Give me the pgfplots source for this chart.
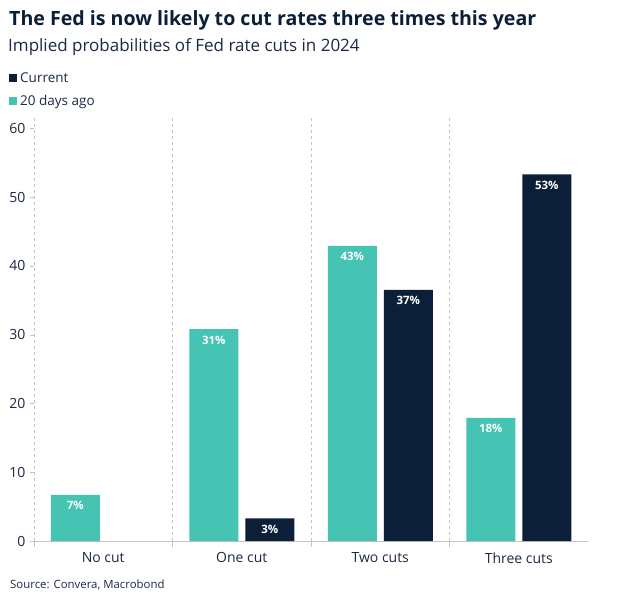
\documentclass[border=0pt]{standalone}
\usepackage{pgfplots}
\pgfplotsset{compat=1.18}
\usepackage{fontspec}
\setmainfont{Open Sans}
\definecolor{navyc}{HTML}{0B1F38}
\definecolor{tealc}{HTML}{45C4B4}
\definecolor{txt}{HTML}{1B2A44}
\definecolor{gridc}{HTML}{C4C4C4}
\pgfplotstableread{
x y label
0 6.7 7\%
1 30.8 31\%
2 42.9 43\%
3 17.9 18\%
}\ago
\pgfplotstableread{
x y label
1 3.3 3\%
2 36.5 37\%
3 53.3 53\%
}\current
\begin{document}
\begin{tikzpicture}[x=1pt,y=1pt]
\path[use as bounding box, fill=white] (0,0) rectangle (644,608);
\node[anchor=base west, inner sep=0, text=navyc, font=\bfseries\fontsize{19.6}{23}\selectfont] at (9,582) {The Fed is now likely to cut rates three times this year};
\node[anchor=base west, inner sep=0, text=txt, font=\fontsize{17}{20}\selectfont] at (8,556) {Implied probabilities of Fed rate cuts in 2024};
\fill[navyc] (9,526) rectangle (17,534);
\node[anchor=base west, inner sep=0, text=txt, font=\fontsize{13.5}{15}\selectfont] at (20,525) {Current};
\fill[tealc] (9,503) rectangle (17,511);
\node[anchor=base west, inner sep=0, text=txt, font=\fontsize{13.5}{15}\selectfont] at (20,502) {20 days ago};
\node[anchor=base west, inner sep=0, text=txt, font=\fontsize{11.4}{13}\selectfont] at (10,20) {Source: Convera, Macrobond};
\begin{axis}[
  at={(34pt,67pt)}, anchor=south west,
  width=554pt, height=423pt, scale only axis,
  xmin=-0.5, xmax=3.5, ymin=0, ymax=61.5,
  ybar=7pt, bar width=49pt,
  axis x line*=bottom, axis y line*=left,
  x axis line style={gridc},
  y axis line style={draw=none},
  xtick={0,1,2,3},
  xticklabels={No cut, One cut, Two cuts, Three cuts},
  xtick style={draw=none},
  extra x ticks={-0.5,0.5,1.5,2.5},
  extra x tick labels={},
  extra x tick style={grid=major, major grid style={dashed, gridc}, major tick length=6pt, xtick style={draw=gridc}},
  ytick={0,10,...,60},
  ytick style={draw=gridc},
  tick align=outside, major tick length=4pt,
  ticklabel style={text=txt, font=\fontsize{14}{16}\selectfont},
  /pgf/number format/assume math mode=true,
  yticklabel style={xshift=-1pt},
  xticklabel style={yshift=-4pt},
  nodes near coords,
  point meta=explicit symbolic,
  every node near coord/.append style={anchor=north, yshift=-3pt, text=white, font=\bfseries\fontsize{11.5}{13}\selectfont},
]
\addplot[fill=tealc, draw=none] table[x=x, y=y, meta=label] {\ago};
\addplot[fill=navyc, draw=none] table[x=x, y=y, meta=label] {\current};
\end{axis}
\end{tikzpicture}
\end{document}
